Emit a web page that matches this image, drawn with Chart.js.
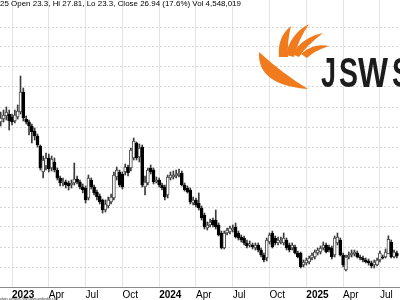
<!DOCTYPE html>
<html>
<head>
<meta charset="utf-8">
<script src="https://cdn.jsdelivr.net/npm/chart.js@4"></script>
<style>
  body { margin: 0; background: #fff; }
  canvas { display: block; }
</style>
</head>
<body>
<canvas id="myChart" width="400" height="300"></canvas>
<script>
'use strict'

// Weekly OHLC, one entry per week (index 0 = early Dec 2022)
const opens = [
  56.25, 57.0, 57.75, 58.25, 57.5, 56.5, 57.5, 58.75, 63.75, 57.0,
  56.25, 55.25, 54.0, 52.75, 50.25, 43.75, 45.25, 47.25, 44.75, 46.25,
  44.25, 42.25, 41.0, 41.25, 41.0, 40.5, 41.0, 42.0, 41.25, 40.0,
  39.75, 37.25, 41.75, 40.0, 38.75, 37.75, 36.75, 34.25, 35.25, 36.25,
  37.25, 42.5, 43.75, 43.25, 43.75, 45.0, 44.75, 47.25, 51.0, 47.5,
  50.0, 40.0, 41.0, 44.75, 44.25, 41.25, 41.75, 40.5, 40.0, 38.0,
  42.25, 42.5, 42.75, 43.0, 43.5, 40.5, 39.75, 39.25, 36.0, 36.75,
  36.0, 34.75, 33.0, 29.75, 30.5, 31.75, 31.75, 30.5, 28.5, 24.75,
  28.5, 28.75, 29.25, 30.0, 28.5, 27.5, 27.25, 26.0, 25.5, 25.5,
  24.75, 25.5, 24.25, 23.0, 22.25, 26.25, 28.5, 27.25, 26.0, 26.25,
  26.0, 26.75, 25.5, 24.75, 25.0, 23.5, 23.5, 20.5, 21.0, 21.25,
  22.25, 22.5, 23.5, 23.75, 24.75, 25.5, 25.0, 24.75, 23.0, 26.0,
  26.75, 23.0, 19.25, 22.5, 23.0, 23.25, 23.5, 22.5, 22.25, 21.75,
  21.5, 21.0, 20.5, 20.5, 21.75, 22.5, 22.5, 23.3, 26.25, 22.5,
  23.5
];
const highs = [
  58.75, 59.25, 60.0, 59.25, 58.25, 59.25, 60.5, 67.75, 64.75, 57.75,
  56.75, 55.75, 54.75, 53.25, 50.5, 47.75, 48.5, 48.25, 47.75, 47.25,
  44.75, 42.75, 42.25, 41.75, 41.5, 41.75, 46.0, 42.75, 41.75, 40.75,
  40.25, 43.0, 42.25, 40.5, 39.25, 38.25, 37.0, 36.75, 37.5, 38.25,
  43.75, 45.0, 44.25, 43.75, 45.75, 45.5, 49.75, 52.25, 51.25, 50.75,
  50.5, 42.75, 44.75, 45.5, 44.75, 42.5, 42.25, 41.0, 40.5, 43.0,
  43.75, 44.0, 44.25, 44.5, 44.0, 41.0, 40.25, 39.75, 37.5, 37.25,
  38.5, 35.25, 33.5, 31.25, 32.0, 32.25, 34.25, 31.0, 29.0, 29.0,
  29.75, 30.25, 30.5, 31.0, 29.0, 28.0, 27.75, 26.75, 26.5, 26.0,
  26.0, 26.0, 24.75, 23.5, 27.25, 28.5, 29.0, 27.75, 27.5, 27.5,
  28.5, 27.25, 26.0, 26.0, 25.5, 24.0, 23.75, 21.75, 22.25, 22.75,
  23.5, 24.25, 24.75, 25.25, 26.25, 26.0, 25.5, 25.25, 27.75, 28.5,
  27.25, 23.5, 23.0, 23.75, 24.25, 24.25, 24.0, 23.0, 22.75, 22.25,
  22.0, 21.5, 21.75, 22.25, 24.0, 23.0, 24.5, 27.81, 26.75, 24.25,
  24.0
];
const lows = [
  55.25, 56.25, 56.75, 54.25, 55.5, 56.0, 57.0, 58.25, 56.5, 55.75,
  53.0, 51.0, 51.75, 50.0, 44.25, 42.25, 44.25, 43.75, 44.0, 43.75,
  41.75, 40.25, 40.25, 39.75, 39.25, 39.75, 40.5, 40.75, 39.5, 38.5,
  36.0, 36.75, 39.5, 38.0, 36.75, 35.75, 33.5, 33.75, 34.75, 35.75,
  36.75, 41.75, 40.0, 39.5, 43.0, 42.75, 44.0, 46.75, 46.75, 46.25,
  40.0, 38.0, 40.5, 43.25, 40.75, 41.0, 40.0, 39.25, 36.75, 37.25,
  41.75, 42.0, 42.25, 42.5, 40.25, 39.0, 38.5, 35.75, 35.5, 35.0,
  34.25, 31.75, 29.5, 29.25, 30.0, 30.0, 29.5, 27.75, 24.5, 24.5,
  28.0, 28.25, 28.75, 27.25, 26.75, 26.25, 25.5, 24.75, 25.0, 24.5,
  24.25, 23.75, 22.5, 21.25, 21.5, 25.75, 24.75, 25.5, 25.5, 25.75,
  25.5, 24.25, 23.75, 24.25, 23.25, 22.25, 19.75, 20.0, 20.5, 20.75,
  21.75, 22.0, 23.0, 23.25, 24.25, 23.5, 23.75, 22.0, 22.5, 25.5,
  22.75, 20.0, 19.0, 22.0, 22.5, 22.75, 22.25, 21.75, 21.25, 21.0,
  20.5, 19.75, 19.75, 20.25, 21.25, 22.0, 22.25, 23.3, 22.25, 22.25,
  22.25
];
const closes = [
  57.25, 58.0, 58.75, 56.5, 56.25, 58.0, 59.0, 63.75, 57.25, 56.25,
  55.25, 53.75, 52.75, 50.5, 44.75, 46.75, 47.25, 44.5, 47.0, 44.25,
  42.25, 41.0, 41.5, 40.5, 40.25, 41.0, 42.0, 41.25, 40.0, 39.25,
  36.75, 42.25, 40.0, 38.5, 37.5, 36.25, 34.25, 35.75, 36.75, 37.5,
  43.0, 44.25, 40.5, 40.0, 45.0, 43.5, 49.25, 51.5, 47.25, 49.75,
  40.5, 41.25, 44.25, 43.75, 41.25, 41.75, 40.5, 39.75, 37.5, 42.5,
  43.0, 43.0, 43.25, 43.5, 40.5, 39.25, 38.75, 36.25, 36.75, 35.5,
  34.75, 32.25, 30.0, 30.5, 31.25, 30.5, 30.0, 28.0, 24.75, 28.5,
  29.25, 29.75, 29.75, 27.5, 27.25, 26.75, 26.0, 25.25, 25.75, 25.0,
  25.5, 24.25, 23.0, 21.75, 26.75, 28.0, 25.0, 26.0, 26.75, 26.75,
  27.25, 24.75, 24.25, 25.5, 23.5, 22.5, 20.0, 21.25, 21.75, 22.25,
  23.0, 23.75, 24.25, 24.75, 25.5, 23.75, 24.25, 22.5, 27.25, 27.5,
  23.0, 20.5, 22.5, 23.0, 23.5, 23.75, 22.5, 22.25, 21.75, 21.25,
  21.0, 20.25, 21.25, 21.75, 23.5, 22.25, 23.75, 26.94, 22.5, 23.75,
  22.75
];

// month gridlines: week index of the first bar of each labelled month
const tickWeeks = [4, 17, 30, 43, 56, 69, 82, 95, 108, 121, 134];
const tickLabels = ['2023', 'Apr', 'Jul', 'Oct', '2024', 'Apr', 'Jul', 'Oct', '2025', 'Apr', 'Jul'];

const titleText = '25 Open 23.3, Hi 27.81, Lo 23.3, Close 26.94 (17.6%) Vol 4,548,019';
const creditText = 'alysis software, http://www.amibroker.com';

let wickData = [];
let bodyData = [];
let bodyFill = [];
let bodyLine = [];
for (let i = 0; i < opens.length; i++) {
  wickData.push({ x: i, y: [lows[i], highs[i]] });
  bodyData.push({ x: i, y: [opens[i], closes[i]] });
  let up = closes[i] >= opens[i];
  bodyFill.push(up ? '#ffffff' : '#000000');
  bodyLine.push(up ? '#4a4a4a' : '#000000');
}

function leaf(ctx, pts) {
  ctx.beginPath();
  ctx.moveTo(pts[0], pts[1]);
  ctx.quadraticCurveTo(pts[2], pts[3], pts[4], pts[5]);
  ctx.quadraticCurveTo(pts[6], pts[7], pts[8], pts[9]);
  ctx.closePath();
  ctx.fill();
}

const decorations = {
  id: 'decorations',
  afterDraw(chart) {
    const ctx = chart.ctx;
    ctx.save();
    // title line
    ctx.fillStyle = '#000';
    ctx.font = '8px "Liberation Sans", Arial, sans-serif';
    ctx.textAlign = 'left';
    ctx.textBaseline = 'alphabetic';
    ctx.fillText(titleText, 0, 6, 241);
    // credit line
    ctx.font = '4px "Liberation Sans", Arial, sans-serif';
    ctx.fillStyle = '#333';
    ctx.fillText(creditText, 0, 299.5, 58);

    // logo
    ctx.fillStyle = '#f07a1c';
    leaf(ctx, [259, 52, 257, 85, 308, 89, 283, 74, 259, 52]);
    leaf(ctx, [279, 57, 277, 37, 291, 26, 287, 42, 288, 57]);
    leaf(ctx, [286, 55, 290, 34, 309, 24, 298, 40, 294, 57]);
    leaf(ctx, [292, 54, 303, 37, 323, 33, 306, 46, 299, 57]);
    leaf(ctx, [301, 54, 313, 43, 329, 46, 314, 51, 307, 58]);

    ctx.fillStyle = '#1c1c1c';
    ctx.font = 'bold 43px "Liberation Sans", Arial, sans-serif';
    ctx.fillText('J', 321, 87, 15);
    ctx.fillText('S', 339, 87, 19);
    ctx.fillText('W', 358, 87, 30);
    ctx.fillText('S', 392, 87, 19);
    ctx.restore();
  }
};

const data = {
  datasets: [{
    label: 'Body',
    data: bodyData,
    backgroundColor: bodyFill,
    borderColor: bodyLine,
    borderWidth: 1,
    borderSkipped: false,
    barThickness: 3,
    minBarLength: 1,
    grouped: false,
    order: 1
  },
  {
    label: 'Wick',
    data: wickData,
    backgroundColor: '#3a3a3a',
    borderWidth: 0,
    barThickness: 1,
    grouped: false,
    order: 2
  }]
};

const config = {
  type: 'bar',
  data: data,
  options: {
    responsive: false,
    animation: false,
    layout: { padding: 0 },
    plugins: {
      legend: { display: false },
      tooltip: { enabled: false }
    },
    scales: {
      x: {
        type: 'linear',
        position: 'bottom',
        offset: false,
        min: -0.25,
        max: 141.1,
        afterBuildTicks(scale) {
          scale.ticks = tickWeeks.map(v => ({ value: v }));
        },
        afterFit(scale) {
          scale.height = 13;
        },
        grid: {
          color: '#e3e3e3',
          offset: false,
          drawTicks: false
        },
        border: { display: true, color: '#8a8a8a' },
        ticks: {
          autoSkip: false,
          maxRotation: 0,
          align: 'start',
          padding: 2,
          color: '#000',
          font: (ctx) => ({
            family: '"Liberation Sans", Arial, sans-serif',
            size: 10,
            weight: /^\d{4}$/.test(tickLabels[ctx.index] || '') ? 'bold' : 'normal'
          }),
          callback: (value, index) => tickLabels[index]
        }
      },
      y: {
        min: 15,
        max: 86.75,
        afterFit(scale) {
          scale.width = 0;
        },
        ticks: { display: false, stepSize: 5 },
        border: { display: false, dash: [2, 2] },
        grid: {
          drawTicks: false,
          color: (ctx) => (ctx.tick && ctx.tick.value % 5 === 0 && ctx.tick.value > 15) ? '#d6d6d6' : 'rgba(0,0,0,0)'
        }
      }
    }
  },
  plugins: [decorations]
};

let canvasChart = document.getElementById('myChart');
const myChart = new Chart(canvasChart, config);
</script>
</body>
</html>
